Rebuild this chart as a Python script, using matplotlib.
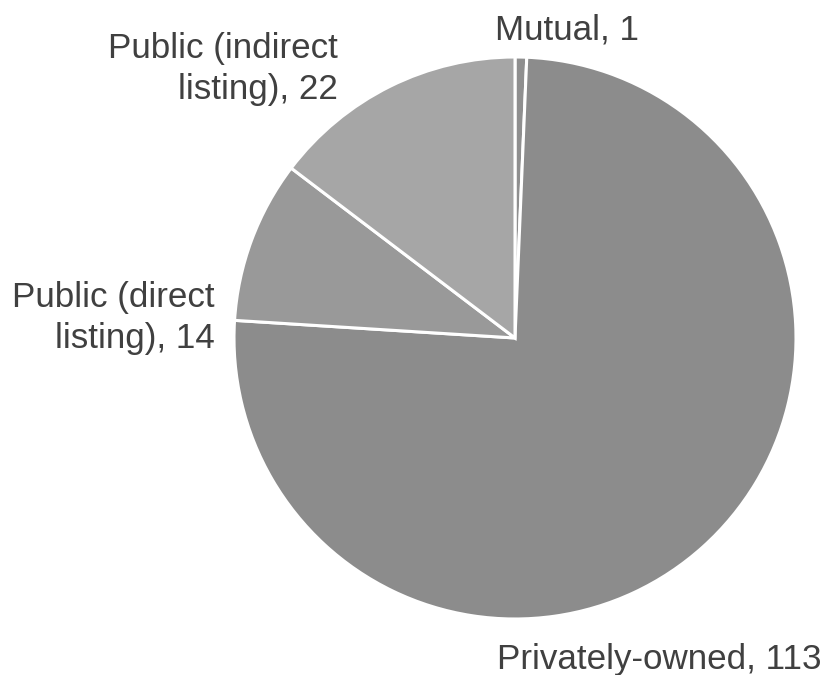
import matplotlib.pyplot as plt

# data
labels = ["Mutual", "Privately-owned", "Public (direct\nlisting)", "Public (indirect\nlisting)"]
values = [1, 113, 14, 22]
colors = ["#8f8f8f", "#8c8c8c", "#999999", "#a6a6a6"]

W, H = 827, 675
cx, cy, r = 515, 338, 281  # pie centre and radius in pixels

fig = plt.figure(figsize=(W / 100, H / 100), dpi=100)
ax = fig.add_axes([0, 0, 1, 1])
ax.pie(values, colors=colors, startangle=90, counterclock=False, radius=1,
       wedgeprops=dict(edgecolor="white", linewidth=2.2))
ax.set_xlim(-cx / r, (W - cx) / r)
ax.set_ylim(-(H - cy) / r, cy / r)
ax.set_aspect("equal")
ax.axis("off")


def px(x, y):
    return (x - cx) / r, (cy - y) / r


# label anchors (pixels) and alignment
label_pos = [((495, 30), "left"), ((497, 660), "left"),
             ((215, 318), "right"), ((338, 69), "right")]
for lab, val, ((x, y), ha) in zip(labels, values, label_pos):
    tx, ty = px(x, y)
    ax.text(tx, ty, f"{lab}, {val}", ha=ha, va="center", fontsize=25.2,
            family="Liberation Sans", color="#404040", multialignment="right",
            linespacing=1.3)

fig.savefig("out.png", dpi=100)
